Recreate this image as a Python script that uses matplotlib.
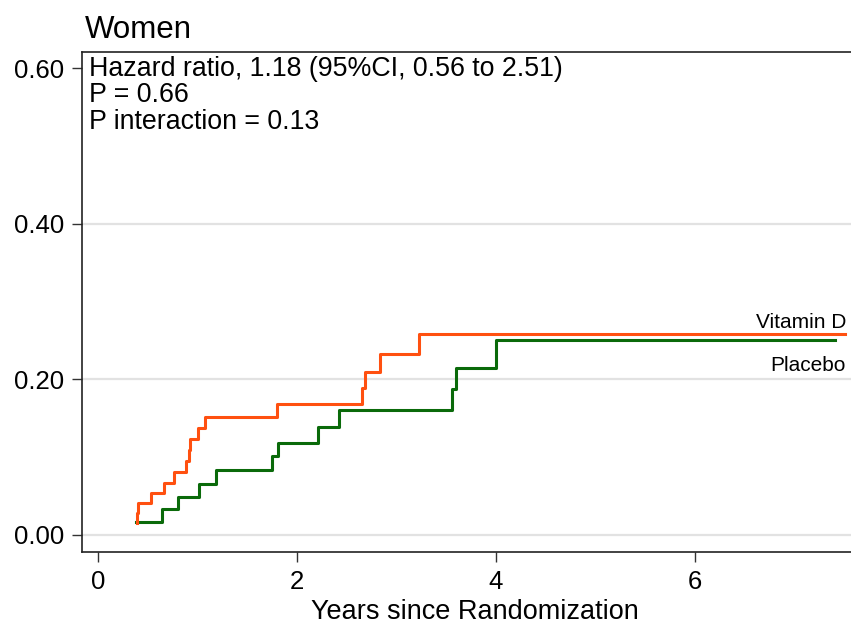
import matplotlib
matplotlib.use("Agg")
import matplotlib.pyplot as plt

plt.rcParams['font.family'] = ['Liberation Sans', 'DejaVu Sans']

# Cumulative incidence step curves (time in years, cumulative probability)
vitd_time = [0.39, 0.39, 0.40, 0.53, 0.66, 0.76, 0.89, 0.92, 0.93, 1.01, 1.08,
             1.80, 2.65, 2.68, 2.84, 3.23, 7.51]
vitd_cum = [0.015, 0.028, 0.041, 0.054, 0.067, 0.081, 0.095, 0.109, 0.123, 0.137, 0.152,
            0.168, 0.189, 0.210, 0.233, 0.258, 0.258]

placebo_time = [0.38, 0.64, 0.80, 1.02, 1.19, 1.75, 1.81, 2.21, 2.42, 3.56, 3.60,
                4.00, 7.41]
placebo_cum = [0.017, 0.033, 0.049, 0.066, 0.083, 0.101, 0.118, 0.139, 0.161, 0.187, 0.214,
               0.251, 0.251]

yticks = [0.0, 0.2, 0.4, 0.6]
ytick_labels = ["0.00", "0.20", "0.40", "0.60"]
grid_levels = [0.0, 0.2, 0.4]
xticks = [0, 2, 4, 6]

stats_text = ["Hazard ratio, 1.18 (95%CI, 0.56 to 2.51)",
              "P = 0.66",
              "P interaction = 0.13"]

W, H = 851, 626
fig = plt.figure(figsize=(W / 100, H / 100), dpi=100)
ax_left, ax_bottom, ax_top = 82, 552, 52
ax = fig.add_axes([ax_left / W, 1 - ax_bottom / H, 1 - ax_left / W, (ax_bottom - ax_top) / H])

for y in grid_levels:
    ax.axhline(y, color="#e2e2e2", lw=1.6, zorder=0)

ax.step(placebo_time, placebo_cum, where="post", color="#0a6a0a", lw=2.2, zorder=3)
ax.step(vitd_time, vitd_cum, where="post", color="#ff5010", lw=2.2, zorder=4)

ax.set_xlim(-0.16, 7.57)
ax.set_ylim(-0.022, 0.621)

ax.set_yticks(yticks)
ax.set_yticklabels(ytick_labels)
ax.set_xticks(xticks)
ax.tick_params(axis="both", labelsize=18.5, length=7, width=1, color="#333333", pad=6)

ax.spines["right"].set_visible(False)
for side in ["left", "bottom", "top"]:
    ax.spines[side].set_linewidth(1.2)
    ax.spines[side].set_color("#222222")

ax.set_xlabel("Years since Randomization", fontsize=19.5)
ax.xaxis.label.set_va("baseline")
ax.xaxis.set_label_coords((474.5 - ax_left) / (W - ax_left), (ax_bottom - 619) / (ax_bottom - ax_top))

fig.text(85 / W, 1 - 38 / H, "Women", fontsize=22.5, va="baseline", ha="left")

for i, line in enumerate(stats_text):
    base_px = 76 + 26.5 * i
    ax.text((89 - ax_left) / (W - ax_left), (ax_bottom - base_px) / (ax_bottom - ax_top), line,
            transform=ax.transAxes, fontsize=19.3, va="baseline", ha="left")

ax.text(7.52, 0.266, "Vitamin D", fontsize=15, ha="right", va="baseline")
ax.text(7.52, 0.211, "Placebo", fontsize=15, ha="right", va="baseline")

fig.savefig("out.png", dpi=100)
